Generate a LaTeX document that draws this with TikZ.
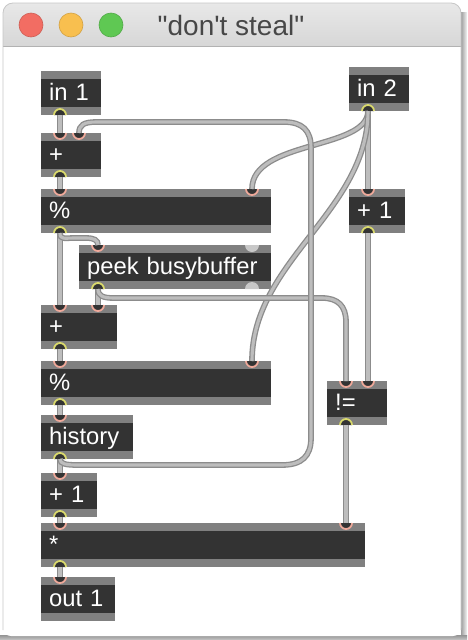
\documentclass[tikz,border=0pt]{standalone}
\usepackage{fontspec}
\setmainfont{Liberation Sans}
\newfontfamily\titlefont{Liberation Sans}
\definecolor{objgray}{HTML}{808080}
\definecolor{objdark}{HTML}{333333}
\definecolor{inring}{HTML}{EFA99A}
\definecolor{outring}{HTML}{D9D96C}
\definecolor{cordout}{HTML}{8C8C8C}
\definecolor{cordin}{HTML}{BDBDBD}
\definecolor{handle}{HTML}{C8C8C8}
\definecolor{closered}{HTML}{F26D63}
\definecolor{miniyellow}{HTML}{F8BF4F}
\definecolor{zoomgreen}{HTML}{5FC853}
\tikzset{
    objbox/.style={anchor=north west, fill=objgray, inner sep=0pt, inner xsep=8pt, minimum height=44pt,
        minimum width=#1, text width=#1-16pt, align=left, text height=18.5pt, text depth=3.5pt, text=white,
        font=\fontsize{23.8}{25}\selectfont,
        path picture={\fill[objdark] ([yshift=-8pt]path picture bounding box.north west) rectangle ([yshift=8pt]path picture bounding box.south east);}},
    cord/.style={draw=cordout, line width=1.3pt, double=cordin, double distance=3.1pt},
    light/.style={circle, fill=#1, draw=#1!85!black, line width=0.6pt, minimum size=24pt, inner sep=0pt}
}
\newcommand{\Inlet}[3]{
    \coordinate (#1) at (#2,#3);
    \fill[objdark] ([xshift=-6pt]#1) arc[start angle=180, end angle=360, radius=6pt] -- cycle;
    \draw[inring, line width=1.8pt] ([xshift=-6pt]#1) arc[start angle=180, end angle=360, radius=6pt];
}
\newcommand{\Outlet}[3]{
    \coordinate (#1) at (#2,#3);
    \fill[objdark] ([xshift=-6pt]#1) arc[start angle=180, end angle=0, radius=6pt] -- cycle;
    \draw[outring, line width=1.8pt] ([xshift=-6pt]#1) arc[start angle=180, end angle=0, radius=6pt];
}
\begin{document}
\begin{tikzpicture}[x=1pt, y=-1pt]
    \useasboundingbox (0,0) rectangle (467,640);
    % window
    \shade[left color=black!38, right color=black!4] (461,12) rectangle (467,640);
    \shade[top color=black!42, bottom color=black!22] (0,635) rectangle (467,640);
    \shade[top color=black!9, bottom color=black!18, rounded corners=10pt] (3,3) rectangle (461,60);
    \fill[white] (3,47) -- (461,47) [rounded corners=8pt] -- (461,636) -- (3,636) [sharp corners] -- cycle;
    \fill[black!30] (3,46) rectangle (461,47);
    \draw[black!22, line width=0.8pt, rounded corners=10pt] (3,630) -- (3,3) -- (461,3) -- (461,630);
    \node[light=closered] (close) at (31,25) {};
    \node[light=miniyellow] (mini) at (71,25) {};
    \node[light=zoomgreen] (zoom) at (111,25) {};
    \node[text=black!72, font=\titlefont\fontsize{28}{29}\selectfont] (title) at (231,25) {"don't steal"};

    % objects
    \node[objbox=60pt] (inone) at (41,71) {in 1};
    \node[objbox=60pt] (plusa) at (41,133) {+};
    \node[objbox=230pt] (moda) at (41,189) {\%};
    \node[objbox=192pt] (peek) at (79,245) {peek busybuffer};
    \node[objbox=76pt] (plusb) at (41,305) {+};
    \node[objbox=230pt] (modb) at (41,361) {\%};
    \node[objbox=92pt] (hist) at (41,415) {history};
    \node[objbox=56pt] (plusc) at (41,473) {+ 1};
    \node[objbox=324pt] (mult) at (41,523) {*};
    \node[objbox=74pt] (outone) at (41,577) {out 1};
    \node[objbox=60pt] (intwo) at (349,67) {in 2};
    \node[objbox=56pt] (plusd) at (349,189) {+ 1};
    \node[objbox=60pt] (neq) at (327,381) {!=};

    % peek corner marks
    \fill[handle] (245,245) arc[start angle=180, end angle=360, radius=7pt] -- cycle;
    \fill[handle] (245,289) arc[start angle=180, end angle=0, radius=7pt] -- cycle;

    % ports
    \Outlet{inoneo}{60}{115}
    \Inlet{plusai}{60}{133}
    \Inlet{plusaj}{79}{133}
    \Outlet{plusao}{60}{177}
    \Inlet{modai}{60}{189}
    \Inlet{modaj}{252}{189}
    \Outlet{modao}{60}{233}
    \Inlet{peeki}{98}{245}
    \Outlet{peeko}{98}{289}
    \Inlet{plusbi}{60}{305}
    \Inlet{plusbj}{98}{305}
    \Outlet{plusbo}{60}{349}
    \Inlet{modbi}{60}{361}
    \Inlet{modbj}{252}{361}
    \Outlet{modbo}{60}{405}
    \Inlet{histi}{60}{415}
    \Outlet{histo}{60}{459}
    \Inlet{plusci}{60}{473}
    \Outlet{plusco}{60}{517}
    \Inlet{multi}{60}{523}
    \Inlet{multj}{346}{523}
    \Outlet{multo}{60}{567}
    \Inlet{outonei}{60}{577}
    \Outlet{intwoo}{368}{111}
    \Inlet{plusdi}{368}{189}
    \Outlet{plusdo}{368}{233}
    \Inlet{neqi}{346}{381}
    \Inlet{neqj}{368}{381}
    \Outlet{neqo}{346}{425}

    % cords
    \draw[cord] (inoneo) -- (plusai);
    \draw[cord] (plusao) -- (modai);
    \draw[cord] (modao) -- (plusbi);
    \draw[cord] (peeko) -- (plusbj);
    \draw[cord] (plusbo) -- (modbi);
    \draw[cord] (modbo) -- (histi);
    \draw[cord] (histo) -- (plusci);
    \draw[cord] (plusco) -- (multi);
    \draw[cord] (multo) -- (outonei);
    \draw[cord] (intwoo) -- (plusdi);
    \draw[cord] (plusdo) -- (neqj);
    \draw[cord] (neqo) -- (multj);
    \draw[cord] (intwoo) .. controls (368,150) and (252,140) .. (modaj);
    \draw[cord] (intwoo) .. controls (368,211) and (252,261) .. (modbj);
    \draw[cord] (modao) .. controls (60,240) and (65,238) .. (74,238) -- (86,238) .. controls (94,238) and (98,240) .. (peeki);
    \draw[cord] (peeko) .. controls (98,296) and (103,298) .. (114,298) -- (322,298) .. controls (338,298) and (346,306) .. (346,322) -- (neqi);
    \draw[cord] (histo) .. controls (60,464) and (66,465) .. (78,465) -- (282,465) .. controls (302,465) and (311,456) .. (311,438) -- (311,148) .. controls (311,130) and (302,122) .. (284,122) -- (96,122) .. controls (84,122) and (79,125) .. (plusaj);
\end{tikzpicture}
\end{document}
